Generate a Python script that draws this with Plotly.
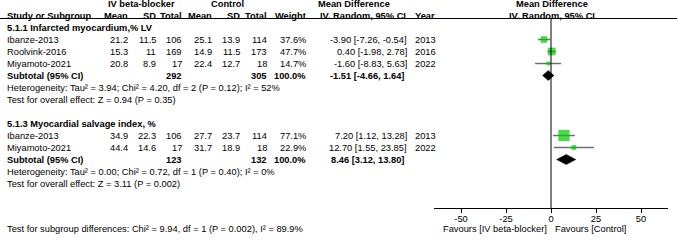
import plotly.graph_objects as go

# ---------------- data ----------------
g1_title = "5.1.1 Infarcted myocardium,% LV"
g1_study = ["Ibanze-2013", "Roolvink-2016", "Miyamoto-2021"]
g1_mean_e = ["21.2", "15.3", "20.8"]
g1_sd_e = ["11.5", "11", "8.9"]
g1_n_e = [106, 169, 17]
g1_mean_c = ["25.1", "14.9", "22.4"]
g1_sd_c = ["13.9", "11.5", "12.7"]
g1_n_c = [114, 173, 18]
g1_weight = [37.6, 47.7, 14.7]
g1_md = [-3.90, 0.40, -1.60]
g1_lo = [-7.26, -1.98, -8.83]
g1_hi = [-0.54, 2.78, 5.63]
g1_year = ["2013", "2016", "2022"]
g1_sub = {"n_e": 292, "n_c": 305, "md": -1.51, "lo": -4.66, "hi": 1.64}
g1_het = "Heterogeneity: Tau² = 3.94; Chi² = 4.20, df = 2 (P = 0.12); I² = 52%"
g1_test = "Test for overall effect: Z = 0.94 (P = 0.35)"

g2_title = "5.1.3 Myocardial salvage index, %"
g2_study = ["Ibanze-2013", "Miyamoto-2021"]
g2_mean_e = ["34.9", "44.4"]
g2_sd_e = ["22.3", "14.6"]
g2_n_e = [106, 17]
g2_mean_c = ["27.7", "31.7"]
g2_sd_c = ["23.7", "18.9"]
g2_n_c = [114, 18]
g2_weight = [77.1, 22.9]
g2_md = [7.20, 12.70]
g2_lo = [1.12, 1.55]
g2_hi = [13.28, 23.85]
g2_year = ["2013", "2022"]
g2_sub = {"n_e": 123, "n_c": 132, "md": 8.46, "lo": 3.12, "hi": 13.80}
g2_het = "Heterogeneity: Tau² = 0.00; Chi² = 0.72, df = 1 (P = 0.40); I² = 0%"
g2_test = "Test for overall effect: Z = 3.11 (P = 0.002)"

subgroup_test = "Test for subgroup differences: Chi² = 9.94, df = 1 (P = 0.002), I² = 89.9%"

tick_vals = [-50, -25, 0, 25, 50]
tick_text = ["-50", "-25", "0", "25", "50"]
favours_left = "Favours [IV beta-blocker]"
favours_right = "Favours [Control]"

# ---------------- layout constants ----------------
W, H = 677, 240
ROW0, PITCH = 3.5, 12.0           # pixel centre of row 0, row pitch
FONT = "Liberation Sans, Arial, sans-serif"
FS = 9.3
GREEN = "#00C800"
GREY = "#707070"
AX_Y = 208                          # pixel y of forest axis
HDR_LINE = 18.5                      # pixel y of header rule
SUBTEST_Y = 229                      # pixel y of subgroup-difference text
FAV_Y = 229                          # pixel y of favours labels
X_DOM = (434 / W, 668 / W)
X_RANGE = [-65, 65]

y_top = (0 - ROW0) / PITCH
y_bot = (H - ROW0) / PITCH

# column x positions (pixels) and anchors
COL = {
    "study": (6, "left"),
    "mean_e": (129, "right"),
    "sd_e": (157, "right"),
    "n_e": (183, "right"),
    "mean_c": (213, "right"),
    "sd_c": (241, "right"),
    "n_c": (268, "right"),
    "weight": (307, "right"),
    "ci": (408, "right"),
    "year": (414, "left"),
}

annotations = []

def txt(text, xpix, row, anchor="left", bold=False):
    annotations.append(dict(
        text=f"<b>{text}</b>" if bold else text,
        x=xpix / W, xref="paper", y=row, yref="y",
        xanchor=anchor, yanchor="middle", showarrow=False,
        font=dict(family=FONT, size=FS, color="black"),
        borderpad=0,
    ))

# headers
txt("IV beta-blocker", 141, 0, "center", True)
txt("Control", 227, 0, "center", True)
txt("Mean Difference", 317, 0, "left", True)
txt("Mean Difference", 552, 0, "center", True)
txt("Study or Subgroup", COL["study"][0], 1, "left", True)
for key, label in [("mean_e", "Mean"), ("sd_e", "SD"), ("n_e", "Total"),
                   ("mean_c", "Mean"), ("sd_c", "SD"), ("n_c", "Total"),
                   ("weight", "Weight")]:
    txt(label, COL[key][0], 1, COL[key][1], True)
txt("IV. Random, 95% CI", 319, 1, "left", True)
txt("Year", COL["year"][0], 1, "left", True)
txt("IV. Random, 95% CI", 552, 1, "center", True)

def group(start_row, title, study, me, se, ne, mc, sc, nc, w, md, lo, hi, yr, sub, het, test):
    txt(title, COL["study"][0], start_row, "left", True)
    rows = []
    for i in range(len(study)):
        r = start_row + 1 + i
        rows.append(r)
        txt(study[i], COL["study"][0], r, "left")
        txt(me[i], COL["mean_e"][0], r, "right")
        txt(se[i], COL["sd_e"][0], r, "right")
        txt(str(ne[i]), COL["n_e"][0], r, "right")
        txt(mc[i], COL["mean_c"][0], r, "right")
        txt(sc[i], COL["sd_c"][0], r, "right")
        txt(str(nc[i]), COL["n_c"][0], r, "right")
        txt(f"{w[i]:.1f}%", COL["weight"][0], r, "right")
        txt(f"{md[i]:.2f} [{lo[i]:.2f}, {hi[i]:.2f}]", COL["ci"][0], r, "right")
        txt(yr[i], COL["year"][0], r, "left")
    rs = start_row + 1 + len(study)
    txt("Subtotal (95% CI)", COL["study"][0], rs, "left", True)
    txt(str(sub["n_e"]), COL["n_e"][0], rs, "right", True)
    txt(str(sub["n_c"]), COL["n_c"][0], rs, "right", True)
    txt("100.0%", COL["weight"][0], rs, "right", True)
    txt(f"{sub['md']:.2f} [{sub['lo']:.2f}, {sub['hi']:.2f}]", COL["ci"][0] - 3, rs, "right", True)
    txt(het, COL["study"][0], rs + 1, "left")
    txt(test, COL["study"][0], rs + 2, "left")
    return rows, rs

rows1, rs1 = group(2, g1_title, g1_study, g1_mean_e, g1_sd_e, g1_n_e, g1_mean_c, g1_sd_c,
                   g1_n_c, g1_weight, g1_md, g1_lo, g1_hi, g1_year, g1_sub, g1_het, g1_test)
rows2, rs2 = group(10, g2_title, g2_study, g2_mean_e, g2_sd_e, g2_n_e, g2_mean_c, g2_sd_c,
                   g2_n_c, g2_weight, g2_md, g2_lo, g2_hi, g2_year, g2_sub, g2_het, g2_test)

txt(subgroup_test, COL["study"][0], (SUBTEST_Y - ROW0) / PITCH, "left")

# favours labels under the axis
for text, anchor, shift in [(favours_left, "right", -3), (favours_right, "left", 3)]:
    annotations.append(dict(
        text=text, x=0, xref="x", y=(H - FAV_Y) / H, yref="paper",
        xanchor=anchor, yanchor="middle", xshift=shift, showarrow=False,
        font=dict(family=FONT, size=FS, color="black"), borderpad=0,
    ))

fig = go.Figure()

# study squares with CIs
md_all = g1_md + g2_md
lo_all = g1_lo + g2_lo
hi_all = g1_hi + g2_hi
w_all = g1_weight + g2_weight
rows_all = rows1 + rows2
fig.add_trace(go.Scatter(
    x=md_all, y=rows_all, mode="markers",
    marker=dict(symbol="square", color=GREEN, size=[2 + 0.12 * w for w in w_all],
                line=dict(width=0)),
    error_x=dict(type="data", symmetric=False,
                 array=[h - m for h, m in zip(hi_all, md_all)],
                 arrayminus=[m - l for m, l in zip(md_all, lo_all)],
                 color=GREY, thickness=1.5, width=0),
    xaxis="x", yaxis="y", hoverinfo="skip", showlegend=False,
))

# subtotal diamonds
half_h = 5 / PITCH
for sub, rs in [(g1_sub, rs1), (g2_sub, rs2)]:
    fig.add_trace(go.Scatter(
        x=[sub["lo"], sub["md"], sub["hi"], sub["md"], sub["lo"]],
        y=[rs, rs - half_h, rs, rs + half_h, rs],
        mode="lines", fill="toself", fillcolor="black",
        line=dict(color="black", width=0.5),
        hoverinfo="skip", showlegend=False,
    ))

shapes = [
    # header rule
    dict(type="line", xref="paper", yref="paper", x0=0, x1=1,
         y0=(H - HDR_LINE) / H, y1=(H - HDR_LINE) / H,
         line=dict(color="black", width=1)),
    # line of no effect
    dict(type="line", xref="x", yref="paper", x0=0, x1=0,
         y0=(H - AX_Y) / H, y1=(H - HDR_LINE) / H,
         line=dict(color="black", width=1)),
]

fig.update_layout(
    width=W, height=H,
    margin=dict(l=0, r=0, t=0, b=0),
    paper_bgcolor="white", plot_bgcolor="rgba(0,0,0,0)",
    font=dict(family=FONT, size=FS, color="black"),
    xaxis=dict(domain=list(X_DOM), range=X_RANGE, anchor="free",
               position=(H - AX_Y) / H,
               showline=True, linecolor="black", linewidth=1,
               ticks="outside", ticklen=4, tickcolor="black", tickwidth=1,
               ticklabelstandoff=-2,
               tickvals=tick_vals, ticktext=tick_text,
               tickfont=dict(family=FONT, size=FS, color="black"),
               showgrid=False, zeroline=False, fixedrange=True),
    yaxis=dict(domain=[0, 1], range=[y_bot, y_top], visible=False,
               showgrid=False, zeroline=False, fixedrange=True),
    shapes=shapes,
    annotations=annotations,
    showlegend=False,
    hovermode=False,
)

fig.write_html("out.html",
               config={"displayModeBar": False, "staticPlot": True},
               post_script="document.body.style.margin='0';document.body.style.overflow='hidden';")
